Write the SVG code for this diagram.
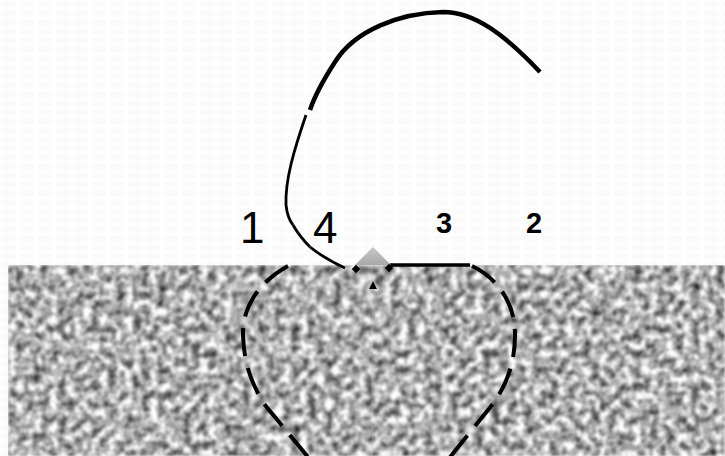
<svg xmlns="http://www.w3.org/2000/svg" width="725" height="456" viewBox="0 0 725 456">
  <style>
    .lbl{font-family:"Liberation Sans",Arial,sans-serif;fill:#000}
    .big{font-size:44px}
    .bold{font-size:29px;font-weight:bold}
    .curve{fill:none;stroke:#000;stroke-linecap:butt}
    .dash{fill:none;stroke:#000;stroke-width:4;stroke-dasharray:28 12}
  </style>
  <defs>
    <pattern id="bgpat" width="18" height="9" patternUnits="userSpaceOnUse">
      <rect width="18" height="9" fill="#fefefe"/>
      <ellipse cx="9" cy="4.5" rx="7" ry="3.2" fill="#fafafa"/>
    </pattern>
    <filter id="noise" filterUnits="userSpaceOnUse" x="8" y="265" width="717" height="191" color-interpolation-filters="sRGB">
      <feTurbulence type="fractalNoise" baseFrequency="0.12" numOctaves="2" seed="4" result="t"/>
      <feColorMatrix in="t" type="matrix" values="1.45 0 0 0 -0.04  1.45 0 0 0 -0.04  1.45 0 0 0 -0.04  0 0 0 0 1" result="g"/>
      <feGaussianBlur in="g" stdDeviation="0.9" result="b"/>
      <feComposite in="b" in2="SourceGraphic" operator="in"/>
    </filter>
    <linearGradient id="tri" x1="0" y1="0" x2="0" y2="1">
      <stop offset="0" stop-color="#c8c8c8"/>
      <stop offset="1" stop-color="#a8a8a8"/>
    </linearGradient>
  </defs>
  <rect width="725" height="456" fill="url(#bgpat)"/>
  <g id="ground">
    <rect x="8" y="265" width="717" height="191" fill="#b4b4b4" filter="url(#noise)"/>
    <line x1="372.5" y1="265" x2="372.5" y2="456" stroke="#c8c8c8" stroke-width="1" opacity="0.25"/>
    <line x1="700.5" y1="265" x2="700.5" y2="456" stroke="#c8c8c8" stroke-width="1" opacity="0.2"/>
  </g>
  <g id="heart">
    <path class="dash" d="M288,266 C262,280 242,305 243,335 C244,365 252,385 265,405 L322,474"/>
    <path class="dash" d="M472,266 C495,277 515,300 515,335 C515,365 505,390 488,410 L438,472"/>
    <line x1="390" y1="265" x2="470" y2="265" stroke="#000" stroke-width="3.5"/>
  </g>
  <g id="junction">
    <polygon points="355,265 373,247 391,265" fill="url(#tri)"/>
    <rect x="353" y="266" width="6" height="6" fill="#000" transform="rotate(45 356 269)"/>
    <rect x="386" y="265" width="6" height="6" fill="#000" transform="rotate(45 389 268)"/>
    <polygon points="373,281 377,289 369,289" fill="#000"/>
  </g>
  <g id="connectors">
    <path class="curve" stroke-width="4.5" d="M540,72 C505,35 475,12 443,12 C400,13 355,30 335,62 C322,82 314,98 310,110"/>
    <path class="curve" stroke-width="2.8" d="M306,115 C294,150 285,180 286,205 C287,214 289,220 293,225"/>
    <path class="curve" stroke-width="2.8" stroke="#8a8a8a" d="M293,225 C297,232 303,240 310,247"/>
    <path class="curve" stroke-width="2.8" d="M310,247 C320,255 332,262 345,268"/>
  </g>
  <g id="label-1"><text class="lbl big" x="240" y="243">1</text></g>
  <g id="label-4"><text class="lbl big" x="313" y="243">4</text></g>
  <g id="label-3"><text class="lbl bold" x="436" y="233">3</text></g>
  <g id="label-2"><text class="lbl bold" x="526" y="233">2</text></g>
</svg>
